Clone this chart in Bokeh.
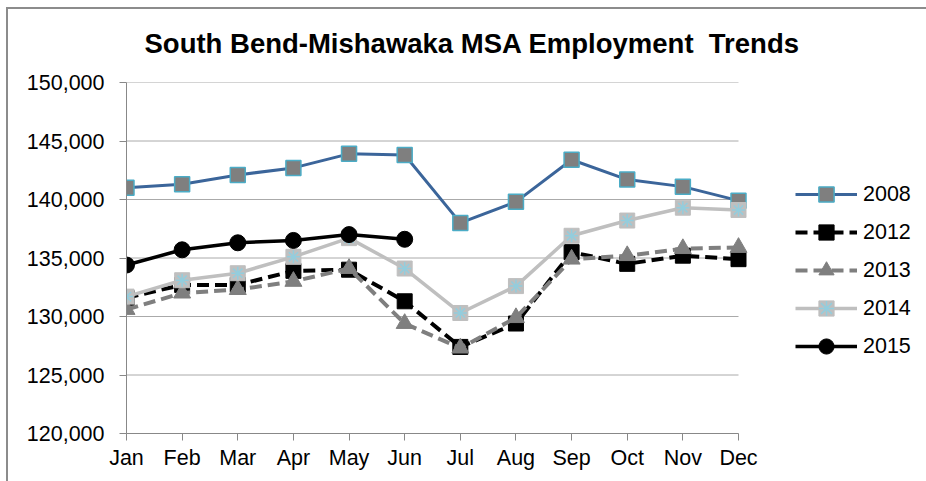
from bokeh.plotting import figure
from bokeh.models import (Range1d, FixedTicker, NumeralTickFormatter, Legend, LegendItem)
from bokeh.embed import file_html
from bokeh.resources import INLINE

months = ["Jan", "Feb", "Mar", "Apr", "May", "Jun", "Jul", "Aug", "Sep", "Oct", "Nov", "Dec"]
emp_2008 = [141000, 141300, 142100, 142700, 143900, 143800, 138000, 139800, 143400, 141700, 141100, 139900]
emp_2012 = [131600, 132700, 132700, 133900, 134000, 131300, 127400, 129400, 135500, 134500, 135200, 134900]
emp_2013 = [130600, 132000, 132300, 133000, 134100, 129400, 127300, 129900, 134900, 135200, 135800, 135900]
emp_2014 = [131700, 133100, 133700, 135100, 136700, 134100, 130300, 132600, 136900, 138200, 139300, 139100]
emp_2015 = [134400, 135700, 136300, 136500, 137000, 136600]
y_ticks = [120000, 125000, 130000, 135000, 140000, 145000, 150000]

FONT = "Liberation Sans"
AXIS_PX = 612      # pixel width of the Jan..Dec span
FRAME_W = 800      # frame extends to the right edge to hold the legend
last = len(months) - 1

p = figure(frame_width=FRAME_W, frame_height=351, output_backend="svg", toolbar_location=None,
           x_range=Range1d(0, last * FRAME_W / AXIS_PX), y_range=Range1d(y_ticks[0], y_ticks[-1]),
           min_border_left=126, min_border_right=0, min_border_top=82, min_border_bottom=48)
p.outline_line_color = None
p.background_fill_color = "white"
p.border_fill_color = None
p.styles = {
    "background": "linear-gradient(#8c8c8c,#8c8c8c) 6px 7px / 2px 100% no-repeat, "
                  "linear-gradient(#8c8c8c,#8c8c8c) 6px 7px / 100% 2px no-repeat, white",
}

p.title.text = "South Bend-Mishawaka MSA Employment\u00a0 Trends"
p.title.align = "left"
p.title.offset = 18
p.title.text_font = FONT
p.title.text_font_size = "27.5px"
p.title.text_font_style = "bold"
p.title.text_color = "black"
p.title.standoff = 47

xs = list(range(len(months)))

# axes
p.xaxis.ticker = FixedTicker(ticks=xs)
p.xaxis.major_label_overrides = {i: m for i, m in enumerate(months)}
p.xaxis.bounds = (0, last)
p.yaxis.ticker = FixedTicker(ticks=y_ticks)
p.yaxis.formatter = NumeralTickFormatter(format="0,0")
for ax in (p.xaxis[0], p.yaxis[0]):
    ax.axis_line_color = "#888888"
    ax.axis_line_width = 1
    ax.major_tick_line_color = "#888888"
    ax.major_tick_in = 0
    ax.major_tick_out = 7
    ax.minor_tick_line_color = None
    ax.major_label_text_font = FONT
    ax.major_label_text_font_size = "21.5px"
    ax.major_label_text_color = "black"
p.yaxis.major_label_standoff = 15
p.xaxis.major_label_standoff = 5

p.xgrid.grid_line_color = None
p.ygrid.grid_line_color = None
# horizontal gridlines spanning only Jan..Dec
p.segment(x0=[xs[0]] * len(y_ticks), x1=[xs[-1]] * len(y_ticks), y0=y_ticks, y1=y_ticks,
          line_color="#AAAAAA", line_width=1)

items = []

# 2008
l = p.line(xs, emp_2008, line_color="#3B659A", line_width=3)
m = p.scatter(xs, emp_2008, marker="square", size=15, fill_color="#7F7F7F",
              line_color="#4BACC6", line_width=1.5)
items.append(LegendItem(label="2008", renderers=[l, m]))

# 2012
l = p.line(xs, emp_2012, line_color="black", line_width=4, line_dash="12 6")
m = p.scatter(xs, emp_2012, marker="square", size=15, fill_color="black", line_color="black")
items.append(LegendItem(label="2012", renderers=[l, m]))

# 2013
l = p.line(xs, emp_2013, line_color="#7F7F7F", line_width=4, line_dash="12 6")
m = p.scatter(xs, emp_2013, marker="triangle", size=17, fill_color="#7F7F7F", line_color="#7F7F7F")
items.append(LegendItem(label="2013", renderers=[l, m]))

# 2014
l = p.line(xs, emp_2014, line_color="#BFBFBF", line_width=3.5)
m = p.scatter(xs, emp_2014, marker="square", size=15, fill_color="#BFBFBF", line_color="#BFBFBF")
a = p.scatter(xs, emp_2014, marker="asterisk", size=13, line_color="#93CDDD", line_width=1.5)
items.append(LegendItem(label="2014", renderers=[l, m, a]))

# 2015
xs15 = xs[:len(emp_2015)]
l = p.line(xs15, emp_2015, line_color="black", line_width=3.5)
m = p.scatter(xs15, emp_2015, marker="circle", size=16, fill_color="black", line_color="black")
items.append(LegendItem(label="2015", renderers=[l, m]))

legend = Legend(items=items, location=(669, 68), orientation="vertical")
legend.border_line_color = None
legend.background_fill_alpha = 0
legend.padding = 0
legend.margin = 0
legend.glyph_width = 62
legend.glyph_height = 38
legend.label_height = 25
legend.spacing = -1
legend.label_standoff = 6
legend.label_text_font = FONT
legend.label_text_font_size = "21.5px"
legend.label_text_color = "black"
p.add_layout(legend, "center")

open("out.html", "w").write(file_html(p, INLINE))
